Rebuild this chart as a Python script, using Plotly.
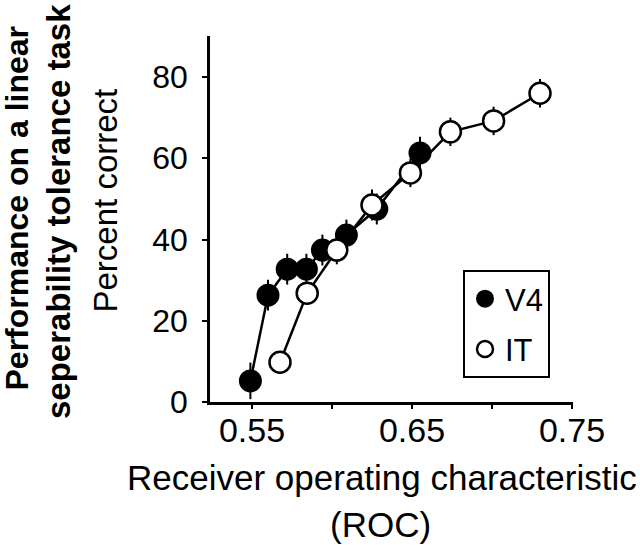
import plotly.graph_objects as go

# ---- data ----
v4_roc = [0.549, 0.560, 0.572, 0.584, 0.594, 0.609, 0.628, 0.655]
v4_pct = [5.2, 26.3, 32.7, 32.7, 37.4, 41.1, 47.5, 61.3]
v4_err = [4.5, 3.8, 3.8, 3.8, 3.8, 3.8, 3.8, 4.0]

it_roc = [0.5675, 0.5845, 0.603, 0.625, 0.649, 0.674, 0.701, 0.730]
it_pct = [9.8, 26.8, 37.4, 48.5, 56.4, 66.5, 69.2, 76.0]
it_err = [2.0, 2.5, 3.5, 3.8, 3.5, 3.5, 3.5, 3.5]

x_tickvals = [0.55, 0.60, 0.65, 0.70, 0.75]
x_ticktext = ["0.55", "", "0.65", "", "0.75"]
y_tickvals = [0, 20, 40, 60, 80]

FONT = "Liberation Sans, Arial, Helvetica, sans-serif"

fig = go.Figure()

fig.add_trace(go.Scatter(
    x=v4_roc, y=v4_pct, mode="lines+markers", showlegend=False,
    line=dict(color="black", width=2.5),
    marker=dict(size=21, color="black", line=dict(color="black", width=2)),
    error_y=dict(type="data", array=v4_err, visible=True, color="black", thickness=2, width=0),
))
fig.add_trace(go.Scatter(
    x=it_roc, y=it_pct, mode="lines+markers", showlegend=False,
    line=dict(color="black", width=2.5),
    marker=dict(size=21, color="white", line=dict(color="black", width=2.5)),
    error_y=dict(type="data", array=it_err, visible=True, color="black", thickness=2, width=0),
))
# legend entries (markers only)
fig.add_trace(go.Scatter(
    x=[None], y=[None], mode="markers", name="V4", legendgroup="a",
    marker=dict(size=21, color="black", line=dict(color="black", width=2)),
))
fig.add_trace(go.Scatter(
    x=[None], y=[None], mode="markers", name="IT", legendgroup="b",
    marker=dict(size=21, color="white", line=dict(color="black", width=2.5)),
))

fig.update_layout(
    width=640, height=545,
    margin=dict(l=210, r=67, t=36, b=143),
    paper_bgcolor="white", plot_bgcolor="white",
    font=dict(family=FONT, color="black"),
    showlegend=True,
    legend=dict(
        x=(463 - 210) / 363, xanchor="left",
        y=(402 - 270) / 366, yanchor="top",
        bordercolor="black", borderwidth=2, bgcolor="white",
        font=dict(size=31, family=FONT, color="black"),
        tracegroupgap=7, itemsizing="trace",
    ),
    xaxis=dict(
        range=[0.52375, 0.750625], showgrid=False, zeroline=False,
        showline=True, linecolor="black", linewidth=2.5,
        ticks="outside", ticklen=4, tickwidth=2, tickcolor="black",
        tickvals=x_tickvals, ticktext=x_ticktext,
        tickfont=dict(size=34, family=FONT, color="black"),
        ticklabelstandoff=-8,
    ),
    yaxis=dict(
        range=[0, 90.1], showgrid=False, zeroline=False,
        showline=True, linecolor="black", linewidth=2.5,
        ticks="outside", ticklen=5, tickwidth=2, tickcolor="black",
        tickvals=y_tickvals,
        tickfont=dict(size=32, family=FONT, color="black"),
        ticklabelstandoff=8,
    ),
)

annotations = [
    dict(text="Receiver operating characteristic", x=382, y=477, size=35, angle=0),
    dict(text="(ROC)", x=380, y=524, size=35, angle=0),
    dict(text="<b>Performance on a linear</b>", x=16, y=208.5, size=32, angle=-90),
    dict(text="<b>seperability tolerance task</b>", x=58, y=212, size=33, angle=-90),
    dict(text="Percent correct", x=105, y=200.5, size=33, angle=-90),
]
for a in annotations:
    fig.add_annotation(
        text=a["text"], xref="paper", yref="paper",
        x=(a["x"] - 210) / 363, y=(402 - a["y"]) / 366,
        xanchor="center", yanchor="middle", showarrow=False,
        textangle=a["angle"],
        font=dict(size=a["size"], family=FONT, color="black"),
    )

fig.write_html(
    "out.html",
    config={"displayModeBar": False},
    post_script="document.body.style.margin='0px';document.body.style.padding='0px';",
)
